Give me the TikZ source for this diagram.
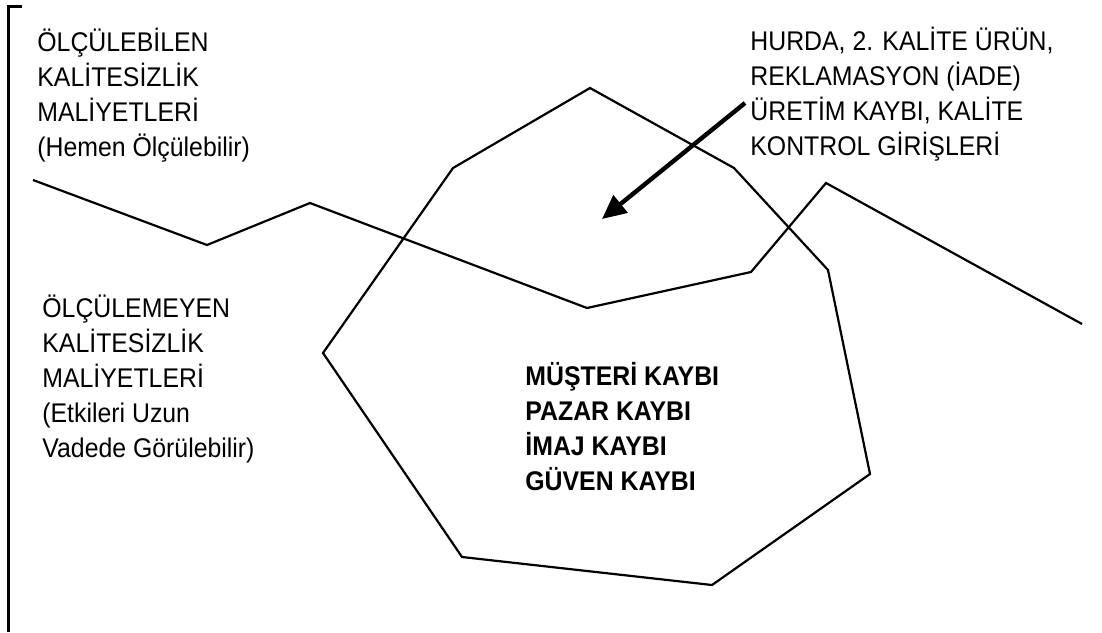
\documentclass[tikz,border=0pt]{standalone}
\usepackage{fontspec}
\setmainfont{Liberation Sans}[FakeStretch=0.92]
\usetikzlibrary{arrows.meta}
\begin{document}
\begin{tikzpicture}[x=0.5pt,y=-0.5pt,
  outline/.style={line width=1.1pt,line join=miter},
  label/.style={anchor=base west,inner sep=0pt,align=left,
    font=\fontsize{13.5}{17.5}\selectfont},
  boldlabel/.style={label,font=\fontsize{13.5}{17.5}\selectfont\bfseries},
  pointer/.style={line width=2.2pt,-{Triangle[length=12pt,width=11pt]}}]
  \useasboundingbox (0,0) rectangle (1102,632);

  % frame corner on the left
  \draw[line width=1.5pt] (22,6) -- (8,6) -- (8,632);

  % region of costs that can be measured at once
  \coordinate (p1) at (590,88);
  \coordinate (p2) at (453,168);
  \coordinate (p3) at (323,353);
  \coordinate (p4) at (462,557);
  \coordinate (p5) at (712,585);
  \coordinate (p6) at (870,474);
  \coordinate (p7) at (828,270);
  \coordinate (p8) at (734,168);
  \draw[outline] (p1) -- (p2) -- (p3) -- (p4) -- (p5) -- (p6) -- (p7) -- (p8) -- cycle;

  % dividing line
  \coordinate (w1) at (33,180);
  \coordinate (w2) at (207,245);
  \coordinate (w3) at (310,203);
  \coordinate (w4) at (587,308);
  \coordinate (w5) at (751,272);
  \coordinate (w6) at (826,183);
  \coordinate (w7) at (1082,324);
  \draw[outline] (w1) -- (w2) -- (w3) -- (w4) -- (w5) -- (w6) -- (w7);

  % texts (placed by the baseline of their last line)
  \node[label] (meas) at (37,156)
    {ÖLÇÜLEBİLEN\\KALİTESİZLİK\\MALİYETLERİ\\(Hemen Ölçülebilir)};
  \node[label] (unmeas) at (42,457)
    {ÖLÇÜLEMEYEN\\KALİTESİZLİK\\MALİYETLERİ\\(Etkileri Uzun\\Vadede Görülebilir)};
  \node[label] (items) at (750,155)
    {HURDA, 2. KALİTE ÜRÜN,\\REKLAMASYON (İADE)\\ÜRETİM KAYBI, KALİTE\\KONTROL GİRİŞLERİ};
  \node[boldlabel] (loss) at (525,490)
    {MÜŞTERİ KAYBI\\PAZAR KAYBI\\İMAJ KAYBI\\GÜVEN KAYBI};

  % arrow into the upper region
  \coordinate (astart) at (745,103);
  \coordinate (aend) at (602,219);
  \draw[pointer] (astart) -- (aend);
\end{tikzpicture}
\end{document}
